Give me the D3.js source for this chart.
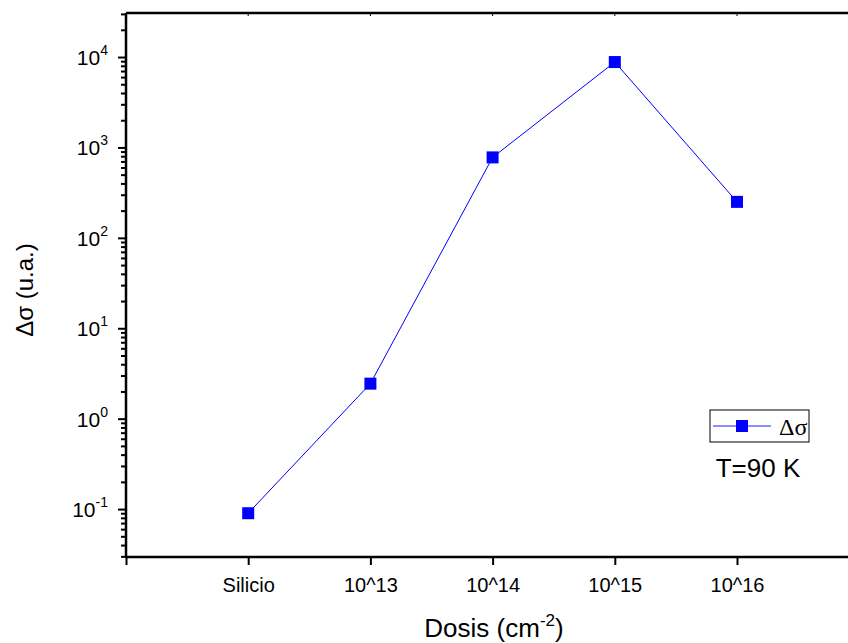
<!DOCTYPE html>
<html>
<head>
<meta charset="utf-8">
<script src="https://cdn.jsdelivr.net/npm/d3@7"></script>
<style>
  body { margin: 0; background: #fff; }
  text { font-family: "Liberation Sans", Arial, sans-serif; fill: #000; }
</style>
</head>
<body>
<div id="chart"></div>
<script>
// datos
var categorias = ["Silicio", "10^13", "10^14", "10^15", "10^16"];
var deltaSigma = [0.09, 2.44, 776, 8800, 250];
var decadas = [-1, 0, 1, 2, 3, 4];

var width = 848, height = 643;
var margin = {top: 13, left: 126, bottom: 86};

var svg = d3.select("#chart").append("svg")
    .attr("width", width)
    .attr("height", height);

// escalas: categorias en posiciones 1..5
var x = d3.scaleLinear().domain([0, 6]).range([margin.left, margin.left + 6 * 122.2]);
var y = d3.scaleLog().domain([Math.pow(10, -1.53), Math.pow(10, 4.487)])
    .range([height - margin.bottom, margin.top]);

var y0 = height - margin.bottom;

// ticks menores del eje y (log)
var menores = [];
for (var e = -2; e <= 4; e++) {
  for (var k = 2; k <= 9; k++) {
    var v = k * Math.pow(10, e);
    if (v >= y.domain()[0] && v <= y.domain()[1]) menores.push(v);
  }
}

var gy = svg.append("g").attr("transform", "translate(" + margin.left + ",0)");
gy.call(d3.axisLeft(y).tickValues(menores).tickSize(5).tickFormat(""));
gy.call(function(g) {
  g.append("g").call(d3.axisLeft(y).tickValues(decadas.map(function(d) { return Math.pow(10, d); }))
    .tickSize(8).tickFormat(""));
});
gy.selectAll("line").attr("stroke-width", 2);
gy.selectAll(".domain").remove();

// etiquetas 10^n
var lab = gy.selectAll(".ylab").data(decadas).enter().append("text")
    .attr("class", "ylab")
    .attr("x", -18)
    .attr("y", function(d) { return y(Math.pow(10, d)) + 8; })
    .attr("text-anchor", "end")
    .style("font-size", "21px");
lab.append("tspan").text("10");
lab.append("tspan").attr("dy", -10).style("font-size", "14px").text(function(d) { return d; });

// eje x
var gx = svg.append("g").attr("transform", "translate(0," + y0 + ")");
gx.call(d3.axisBottom(x).tickValues([0, 1, 2, 3, 4, 5]).tickSize(8)
  .tickFormat(function(d) { return d === 0 ? "" : categorias[d - 1]; }));
gx.selectAll("line").attr("stroke-width", 2);
gx.selectAll(".domain").remove();
gx.selectAll("text").style("font-size", "20px").attr("y", 35).attr("dy", 0)
  .style("font-family", "Liberation Sans, Arial, sans-serif");

// marco
svg.append("line").attr("x1", margin.left).attr("x2", width)
  .attr("y1", y0).attr("y2", y0).attr("stroke", "#000").attr("stroke-width", 2.5);
svg.append("line").attr("x1", margin.left).attr("x2", margin.left)
  .attr("y1", margin.top).attr("y2", y0 + 1).attr("stroke", "#000").attr("stroke-width", 2.5);
svg.append("line").attr("x1", margin.left).attr("x2", width)
  .attr("y1", margin.top).attr("y2", margin.top).attr("stroke", "#000").attr("stroke-width", 2.5);
// ticks superiores pequeños
svg.selectAll(".ttop").data([1, 2, 3, 4, 5]).enter().append("line")
  .attr("x1", function(d) { return x(d); }).attr("x2", function(d) { return x(d); })
  .attr("y1", margin.top).attr("y2", margin.top + 3)
  .attr("stroke", "#000").attr("stroke-width", 1);

// linea de datos
var linea = d3.line()
  .x(function(d, i) { return x(i + 1); })
  .y(function(d) { return y(d); });

svg.append("path")
  .datum(deltaSigma)
  .attr("d", linea)
  .attr("fill", "none")
  .attr("stroke", "#0000ff")
  .attr("stroke-width", 1);

svg.selectAll(".pt").data(deltaSigma).enter().append("rect")
  .attr("class", "pt")
  .attr("x", function(d, i) { return x(i + 1) - 6; })
  .attr("y", function(d) { return y(d) - 6; })
  .attr("width", 12).attr("height", 12)
  .attr("fill", "#0000ff");

// leyenda
var lg = svg.append("g").attr("transform", "translate(710,410)");
lg.append("rect").attr("width", 99).attr("height", 32)
  .attr("fill", "#fff").attr("stroke", "#000").attr("stroke-width", 1);
lg.append("line").attr("x1", 3).attr("x2", 61).attr("y1", 16).attr("y2", 16)
  .attr("stroke", "#6666ff").attr("stroke-width", 1.5);
lg.append("rect").attr("x", 26).attr("y", 10).attr("width", 12).attr("height", 12).attr("fill", "#0000ff");
lg.append("text").attr("x", 69).attr("y", 25)
  .style("font-family", "Liberation Serif, Times New Roman, serif")
  .style("font-size", "24px").text("Δσ");

svg.append("text").attr("x", 758).attr("y", 477).attr("text-anchor", "middle")
  .style("font-size", "26px").text("T=90 K");

// titulos de ejes
svg.append("text")
  .attr("transform", "translate(33,290) rotate(-90)")
  .attr("text-anchor", "middle")
  .style("font-size", "24px")
  .text("Δσ (u.a.)");

var xt = svg.append("text").attr("x", 494).attr("y", 637).attr("text-anchor", "middle")
  .style("font-size", "26px");
xt.append("tspan").text("Dosis (cm");
xt.append("tspan").attr("dy", -11).style("font-size", "17px").text("-2");
xt.append("tspan").attr("dy", 11).text(")");
</script>
</body>
</html>
